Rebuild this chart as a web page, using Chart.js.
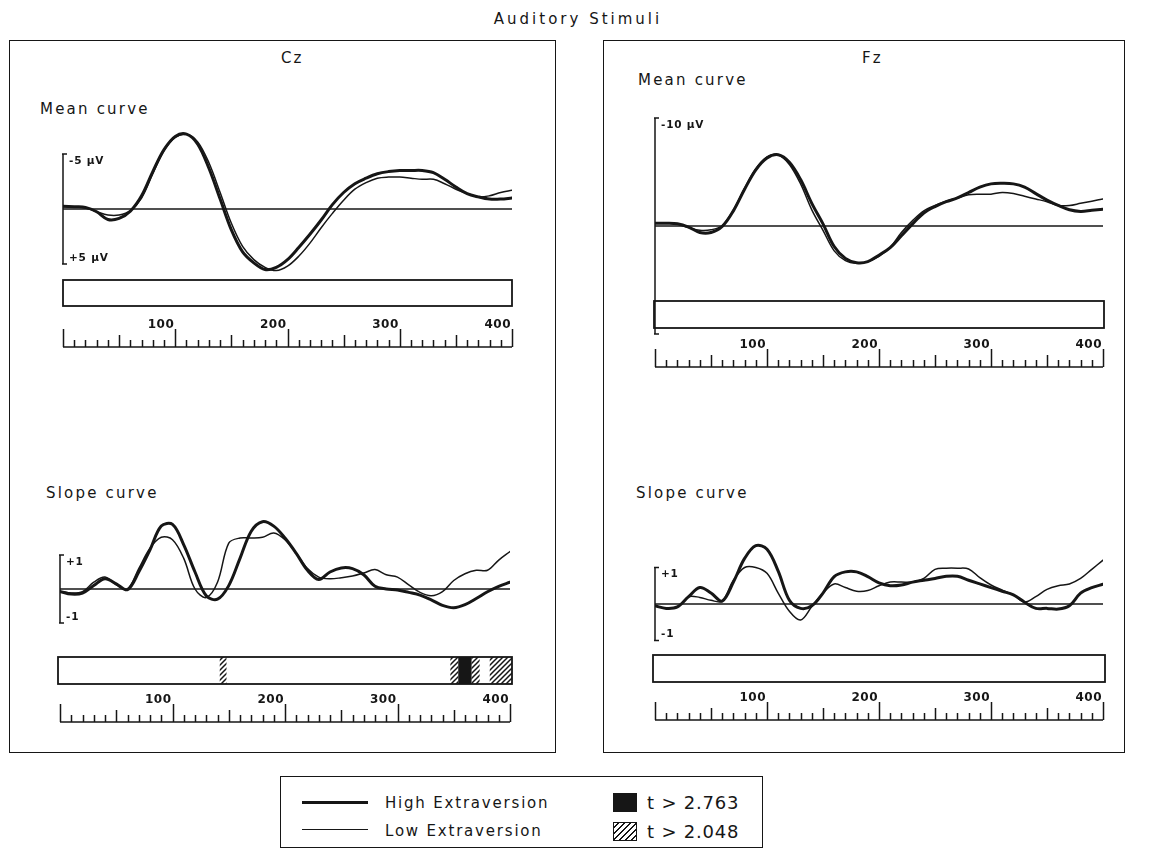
<!DOCTYPE html>
<html>
<head>
<meta charset="utf-8">
<script src="https://cdn.jsdelivr.net/npm/chart.js@4.4.1/dist/chart.umd.min.js"></script>
<style>
  body { margin: 0; background: #fff; width: 1152px; height: 849px; overflow: hidden; position: relative;
         font-family: "DejaVu Sans", sans-serif; color: #161616; }
  .t { position: absolute; white-space: nowrap; transform: translateY(-50%); }
  .box { position: absolute; border: 1.5px solid #161616; box-sizing: border-box; }
  canvas { position: absolute; }
  .sw { position: absolute; box-sizing: border-box; border: 1.5px solid #161616; }
</style>
</head>
<body>
<div class="t" style="left:0;width:1156px;text-align:center;top:19px;font-size:15px;letter-spacing:3px">Auditory Stimuli</div>

<div class="box" style="left:9px;top:40px;width:547px;height:713px"></div>
<div class="box" style="left:603px;top:40px;width:522px;height:713px"></div>

<div class="t" style="left:281px;top:58px;font-size:15px;letter-spacing:2px">Cz</div>
<div class="t" style="left:862px;top:58px;font-size:15px;letter-spacing:2px">Fz</div>

<div class="t" style="left:40px;top:109px;font-size:15px;letter-spacing:2.2px">Mean curve</div>
<div class="t" style="left:46px;top:493px;font-size:15px;letter-spacing:2.2px">Slope curve</div>
<div class="t" style="left:638px;top:80px;font-size:15px;letter-spacing:2.2px">Mean curve</div>
<div class="t" style="left:636px;top:493px;font-size:15px;letter-spacing:2.2px">Slope curve</div>

<!-- legend -->
<div class="box" style="left:280px;top:776px;width:483px;height:72px"></div>
<div style="position:absolute;left:302px;top:801px;width:66px;height:3px;background:#161616"></div>
<div style="position:absolute;left:302px;top:829px;width:66px;height:1.4px;background:#161616"></div>
<div class="t" style="left:385px;top:803px;font-size:15px;letter-spacing:1.8px">High Extraversion</div>
<div class="t" style="left:385px;top:831px;font-size:15px;letter-spacing:1.8px">Low Extraversion</div>
<div class="sw" style="left:613px;top:793px;width:24px;height:19px;background:#161616"></div>
<div class="sw" style="left:613px;top:822px;width:24px;height:19px;
  background:repeating-linear-gradient(-45deg,#fff 0 2.5px,#161616 2.5px 4.2px)"></div>
<div class="t" style="left:647px;top:802px;font-size:18px;letter-spacing:0.8px">t &gt; 2.763</div>
<div class="t" style="left:647px;top:831px;font-size:18px;letter-spacing:0.8px">t &gt; 2.048</div>

<script>
// time points (ms)
const timeMs = [0, 10, 20, 30, 40, 50, 60, 70, 80, 90, 100, 110, 120, 130, 140, 150, 160, 170, 180, 190,
  200, 210, 220, 230, 240, 250, 260, 270, 280, 290, 300, 310, 320, 330, 340, 350, 360, 370, 380, 390, 400];

// Cz mean curve (µV, negative up)
const czMeanHigh = [-0.25, -0.2, -0.15, 0.25, 0.95, 0.85, 0.2, -1.2, -3.4, -5.4, -6.6, -6.8, -5.9, -3.7, -0.9,
  1.9, 3.9, 4.9, 5.5, 5.3, 4.6, 3.5, 2.3, 1.0, -0.4, -1.5, -2.3, -2.8, -3.2, -3.4, -3.5, -3.5, -3.5, -3.3,
  -2.7, -2.0, -1.4, -1.1, -0.9, -0.9, -1.0];
const czMeanLow = [-0.2, -0.2, -0.1, 0.25, 0.55, 0.55, 0.15, -1.0, -3.2, -5.3, -6.5, -6.8, -6.1, -4.2, -1.5,
  1.3, 3.4, 4.6, 5.3, 5.6, 5.2, 4.3, 3.1, 1.7, 0.4, -0.8, -1.8, -2.4, -2.8, -2.9, -2.9, -2.8, -2.7, -2.7,
  -2.3, -1.8, -1.4, -1.1, -1.2, -1.5, -1.7];

// Fz mean curve (µV, negative up)
const fzMeanHigh = [-0.25, -0.25, -0.2, 0.1, 0.6, 0.6, 0.05, -1.4, -3.4, -5.2, -6.3, -6.6, -5.9, -4.3, -2.1,
  -0.2, 1.9, 3.0, 3.4, 3.3, 2.7, 2.0, 0.9, -0.2, -1.2, -1.8, -2.25, -2.6, -3.1, -3.6, -3.9, -3.95, -3.9,
  -3.6, -3.0, -2.4, -1.9, -1.5, -1.35, -1.45, -1.55];
const fzMeanLow = [-0.25, -0.25, -0.2, 0.15, 0.4, 0.35, -0.05, -1.5, -3.5, -5.3, -6.4, -6.6, -5.7, -3.9, -1.5,
  0.4, 2.3, 3.2, 3.45, 3.3, 2.8, 2.0, 0.6, -0.5, -1.4, -1.9, -2.3, -2.6, -2.9, -2.95, -2.95, -3.1, -3.0,
  -2.75, -2.5, -2.25, -1.9, -1.9, -2.1, -2.3, -2.5];

// Cz slope curve
const czSlopeHigh = [-0.07, -0.15, -0.12, 0.1, 0.3, 0.15, -0.02, 0.5, 1.15, 1.85, 1.9, 1.3, 0.5, -0.2, -0.3,
  0.1, 0.9, 1.7, 1.98, 1.85, 1.5, 1.05, 0.55, 0.28, 0.5, 0.62, 0.6, 0.42, 0.08, 0.0, -0.03, -0.1, -0.18,
  -0.32, -0.48, -0.55, -0.46, -0.28, -0.08, 0.08, 0.2];
const czSlopeLow = [-0.07, -0.12, -0.08, 0.2, 0.35, 0.12, 0.0, 0.6, 1.2, 1.52, 1.45, 0.9, 0.0, -0.25, 0.2,
  1.35, 1.5, 1.5, 1.52, 1.65, 1.45, 1.05, 0.6, 0.35, 0.3, 0.33, 0.38, 0.47, 0.57, 0.42, 0.35, 0.12, -0.1,
  -0.2, -0.08, 0.25, 0.45, 0.55, 0.55, 0.85, 1.1];

// Fz slope curve
const fzSlopeHigh = [-0.05, -0.12, -0.08, 0.2, 0.45, 0.3, 0.08, 0.6, 1.25, 1.6, 1.5, 0.9, 0.1, -0.12, -0.05,
  0.3, 0.75, 0.88, 0.88, 0.75, 0.58, 0.5, 0.52, 0.6, 0.65, 0.7, 0.76, 0.76, 0.65, 0.55, 0.45, 0.35, 0.25,
  0.05, -0.12, -0.12, -0.14, -0.05, 0.3, 0.45, 0.54];
const fzSlopeLow = [-0.05, -0.12, -0.08, 0.2, 0.18, 0.1, 0.08, 0.65, 1.0, 1.0, 0.84, 0.3, -0.2, -0.44, -0.07,
  0.3, 0.55, 0.45, 0.35, 0.37, 0.5, 0.6, 0.6, 0.6, 0.7, 0.95, 0.98, 0.98, 0.96, 0.72, 0.52, 0.38, 0.25,
  0.05, 0.2, 0.4, 0.5, 0.55, 0.7, 0.95, 1.2];

// significant intervals: [from ms, to ms, level]  (2 = t > 2.763, 1 = t > 2.048)
const czMeanSig = [];
const fzMeanSig = [];
const czSlopeSig = [[142, 148, 1], [347, 354, 1], [354, 366, 2], [366, 373, 1], [382, 402, 1]];
const fzSlopeSig = [];

const rulerLabels = [100, 200, 300, 400];

const ink = "#161616";

function hatchPattern(ctx) {
  const c = document.createElement("canvas");
  c.width = 5; c.height = 5;
  const g = c.getContext("2d");
  g.fillStyle = "#fff"; g.fillRect(0, 0, 5, 5);
  g.strokeStyle = ink; g.lineWidth = 1.5;
  g.beginPath();
  g.moveTo(-1, 6); g.lineTo(6, -1);
  g.moveTo(-1, 1); g.lineTo(1, -1);
  g.moveTo(4, 6); g.lineTo(6, 4);
  g.stroke();
  return ctx.createPattern(c, "repeat");
}

const eegPlugin = {
  id: "eeg",
  afterDatasetsDraw(chart) {
    const p = chart.options.plugins.eeg;
    const ctx = chart.ctx, xs = chart.scales.x, ys = chart.scales.y;
    ctx.save();
    ctx.strokeStyle = ink; ctx.fillStyle = ink;

    // amplitude scale bar
    const bx = xs.getPixelForValue(0);
    const bTop = Math.min(ys.getPixelForValue(p.bar[0]), ys.getPixelForValue(p.bar[1]));
    const bBot = Math.max(ys.getPixelForValue(p.bar[0]), ys.getPixelForValue(p.bar[1]));
    ctx.lineWidth = 1.5;
    ctx.beginPath();
    ctx.moveTo(bx, bTop); ctx.lineTo(bx, bBot);
    ctx.moveTo(bx - 1, bTop); ctx.lineTo(bx + 4, bTop);
    ctx.moveTo(bx - 1, bBot); ctx.lineTo(bx + 4, bBot);
    ctx.stroke();
    ctx.font = "bold 10.5px 'DejaVu Sans'";
    ctx.letterSpacing = "0.8px";
    ctx.textBaseline = "middle";
    ctx.textAlign = "left";
    if (p.barLabels[0]) ctx.fillText(p.barLabels[0], bx + 6, bTop + 7);
    if (p.barLabels[1]) ctx.fillText(p.barLabels[1], bx + 6, bBot - 6);

    // significance strip
    const sTop = p.sigTop - p.top;
    const sx0 = xs.getPixelForValue(0) - p.sigPad, sx1 = xs.getPixelForValue(400) + p.sigPad;
    const pat = hatchPattern(ctx);
    p.sig.forEach(([a, b, lvl]) => {
      const xa = Math.max(sx0, xs.getPixelForValue(a)), xb = Math.min(sx1, xs.getPixelForValue(b));
      ctx.fillStyle = lvl === 2 ? ink : pat;
      ctx.fillRect(xa, sTop, xb - xa, p.sigH);
    });
    ctx.fillStyle = ink;
    ctx.lineWidth = 1.8;
    ctx.strokeRect(sx0, sTop, sx1 - sx0, p.sigH);

    // time ruler
    const ry = p.rulerY - p.top;
    ctx.lineWidth = 1.5;
    ctx.beginPath();
    ctx.moveTo(xs.getPixelForValue(0), ry); ctx.lineTo(xs.getPixelForValue(400), ry);
    for (let v = 0; v <= 400; v += 10) {
      const x = Math.round(xs.getPixelForValue(v)) + 0.5;
      const len = v % 100 === 0 ? 18 : v % 50 === 0 ? 12 : 7;
      ctx.moveTo(x, ry); ctx.lineTo(x, ry - len);
    }
    ctx.stroke();
    ctx.font = "bold 12px 'DejaVu Sans'";
    ctx.letterSpacing = "0.5px";
    ctx.textAlign = "right";
    ctx.textBaseline = "bottom";
    rulerLabels.forEach(v => ctx.fillText(String(v), xs.getPixelForValue(v) - 1, ry - 16));
    ctx.restore();
  }
};

function makePanel(cfg) {
  const cv = document.createElement("canvas");
  cv.width = cfg.width; cv.height = cfg.height;
  cv.style.left = cfg.left + "px"; cv.style.top = cfg.top + "px";
  document.body.appendChild(cv);
  const topVal = cfg.reverse ? cfg.yMin : cfg.yMax;
  const botVal = cfg.reverse ? cfg.yMax : cfg.yMin;
  const sign = cfg.reverse ? 1 : -1;
  const areaTop = cfg.zeroY + sign * topVal * cfg.unit;
  const areaBot = cfg.zeroY + sign * botVal * cfg.unit;
  const pts = arr => timeMs.map((t, i) => ({ x: t, y: arr[i] }));
  new Chart(cv, {
    type: "line",
    data: {
      datasets: [
        { label: "High Extraversion", data: pts(cfg.high), borderColor: ink, borderWidth: 3 },
        { label: "Low Extraversion", data: pts(cfg.low), borderColor: ink, borderWidth: 1.5 },
        { label: "baseline", data: [{ x: 0, y: 0 }, { x: 400, y: 0 }], borderColor: ink, borderWidth: 1.6, tension: 0 }
      ]
    },
    options: {
      responsive: false,
      animation: false,
      devicePixelRatio: 1,
      events: [],
      elements: { point: { radius: 0 }, line: { tension: 0.35, borderCapStyle: "round" } },
      layout: {
        padding: {
          left: cfg.x0 - cfg.left,
          right: cfg.left + cfg.width - cfg.x1,
          top: areaTop - cfg.top,
          bottom: cfg.top + cfg.height - areaBot
        }
      },
      scales: {
        x: { type: "linear", min: 0, max: 400, display: false },
        y: { type: "linear", min: cfg.yMin, max: cfg.yMax, reverse: cfg.reverse, display: false }
      },
      plugins: {
        legend: { display: false },
        tooltip: { enabled: false },
        eeg: {
          top: cfg.top, bar: cfg.bar, barLabels: cfg.barLabels,
          sig: cfg.sig, sigTop: cfg.sigTop, sigH: cfg.sigH, sigPad: cfg.sigPad,
          rulerY: cfg.rulerY
        }
      }
    },
    plugins: [eegPlugin]
  });
}

makePanel({ left: 20, top: 110, width: 530, height: 255, x0: 63, x1: 512, zeroY: 209, unit: 11,
  yMin: -8, yMax: 6.2, reverse: true, high: czMeanHigh, low: czMeanLow,
  bar: [-5, 5], barLabels: ["-5 \u00b5V", "+5 \u00b5V"], sig: czMeanSig, sigTop: 280, sigH: 26, sigPad: 0, rulerY: 347 });

makePanel({ left: 20, top: 505, width: 530, height: 235, x0: 60, x1: 510, zeroY: 589, unit: 34,
  yMin: -1.2, yMax: 2.2, reverse: false, high: czSlopeHigh, low: czSlopeLow,
  bar: [1, -1], barLabels: ["+1", "-1"], sig: czSlopeSig, sigTop: 657, sigH: 27, sigPad: 2, rulerY: 722 });

makePanel({ left: 615, top: 105, width: 525, height: 275, x0: 655, x1: 1103, zeroY: 226, unit: 10.8,
  yMin: -10, yMax: 10, reverse: true, high: fzMeanHigh, low: fzMeanLow,
  bar: [-10, 10], barLabels: ["-10 \u00b5V", ""], sig: fzMeanSig, sigTop: 301, sigH: 27, sigPad: 1, rulerY: 367 });

makePanel({ left: 615, top: 505, width: 525, height: 235, x0: 655, x1: 1103, zeroY: 604, unit: 36.5,
  yMin: -1.2, yMax: 2.2, reverse: false, high: fzSlopeHigh, low: fzSlopeLow,
  bar: [1, -1], barLabels: ["+1", "-1"], sig: fzSlopeSig, sigTop: 655, sigH: 27, sigPad: 2, rulerY: 720 });
</script>
</body>
</html>
